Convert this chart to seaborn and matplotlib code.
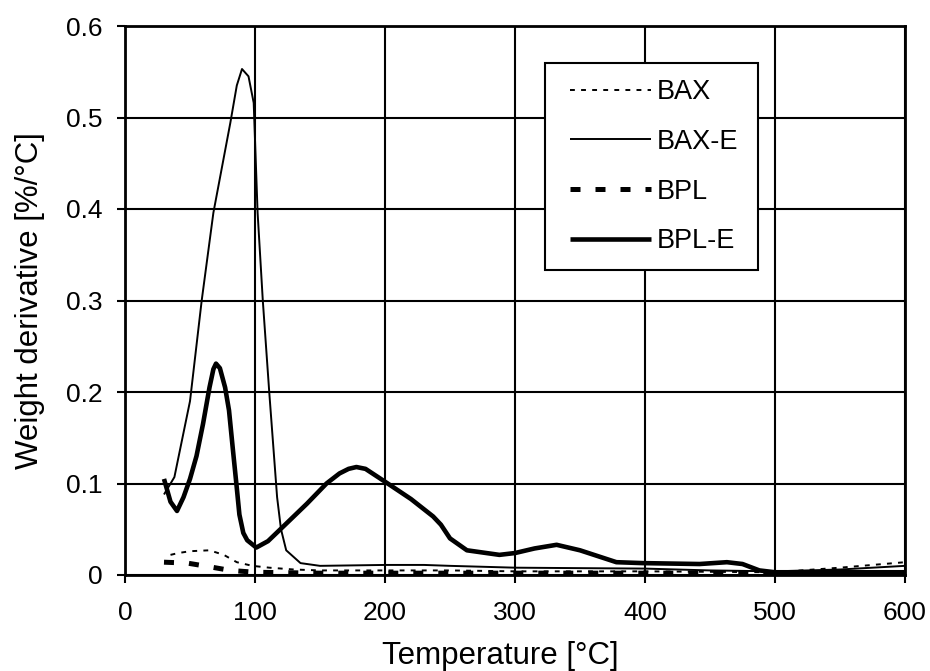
import numpy as np
import pandas as pd
import seaborn as sns
import matplotlib
matplotlib.use("Agg")
import matplotlib.pyplot as plt
from matplotlib.patches import Rectangle

# ---- data ----
bax_x = [35, 41, 50, 65, 76, 86, 98, 111, 130, 150, 200, 250, 300, 400, 500, 550, 600]
bax_y = [0.022, 0.024, 0.026, 0.027, 0.022, 0.014, 0.010, 0.008, 0.006, 0.005,
         0.005, 0.005, 0.004, 0.004, 0.003, 0.008, 0.014]

baxe_x = [30, 38, 50, 59, 68, 81, 86, 90, 95, 99, 102, 106, 111, 117, 120, 124,
          135, 150, 200, 230, 250, 300, 400, 450, 500, 550, 600]
baxe_y = [0.088, 0.107, 0.19, 0.30, 0.396, 0.494, 0.535, 0.553, 0.545, 0.516,
          0.396, 0.30, 0.199, 0.085, 0.050, 0.027, 0.013, 0.010, 0.011, 0.011,
          0.010, 0.008, 0.007, 0.005, 0.004, 0.006, 0.010]

bpl_x = [30, 48, 65, 81, 100, 150, 200, 300, 400, 500, 600]
bpl_y = [0.014, 0.013, 0.009, 0.005, 0.003, 0.002, 0.002, 0.002, 0.002, 0.002, 0.002]

bple_x = [30, 35, 40, 45, 50, 55, 60, 65, 68, 70, 73, 77, 80, 83, 86, 88, 91, 94,
          101, 110, 121, 140, 155, 165, 172, 178, 185, 200, 220, 237, 243, 250,
          263, 288, 300, 315, 332, 350, 378, 398, 442, 463, 475, 488, 500, 600]
bple_y = [0.105, 0.080, 0.070, 0.085, 0.105, 0.130, 0.165, 0.205, 0.225, 0.231,
          0.226, 0.205, 0.180, 0.137, 0.095, 0.066, 0.046, 0.038, 0.030, 0.037,
          0.052, 0.078, 0.100, 0.111, 0.116, 0.118, 0.116, 0.102, 0.083, 0.064,
          0.055, 0.040, 0.027, 0.022, 0.024, 0.029, 0.033, 0.027, 0.014, 0.013,
          0.012, 0.014, 0.012, 0.005, 0.003, 0.003]

labels = ["BAX", "BAX-E", "BPL", "BPL-E"]
xticks = [0, 100, 200, 300, 400, 500, 600]
yticks = [0, 0.1, 0.2, 0.3, 0.4, 0.5, 0.6]

sns.set_theme(style="white")
plt.rcParams['font.family'] = ['Liberation Sans', 'DejaVu Sans']
plt.rcParams['text.color'] = 'black'
plt.rcParams['axes.labelcolor'] = 'black'
plt.rcParams['xtick.color'] = 'black'
plt.rcParams['ytick.color'] = 'black'

fig = plt.figure(figsize=(9.3, 6.71), dpi=100)
ax = fig.add_axes([125/930, 1-575/671, (905-125)/930, (575-26)/671])

series = [
    (bax_x, bax_y, 1.4, (2.5, 3.2)),
    (baxe_x, baxe_y, 1.4, None),
    (bpl_x, bpl_y, 3.6, (2.0, 3.0)),
    (bple_x, bple_y, 3.3, None),
]
for (xs, ys, lw, dashes), lab in zip(series, labels):
    df = pd.DataFrame({"Temperature": xs, "Weight": ys})
    sns.lineplot(data=df, x="Temperature", y="Weight", ax=ax, label=lab,
                 color="black", linewidth=lw)
    ln = ax.get_lines()[-1]
    if dashes is not None:
        ln.set_dashes(dashes)
        ln.set_dash_capstyle("butt")
    ln.set_solid_capstyle("butt")
    ln.set_solid_joinstyle("round")

ax.set_xlim(0, 600)
ax.set_ylim(0, 0.6)
ax.set_xticks(xticks)
ax.set_yticks(yticks)
ax.set_xticklabels([str(t) for t in xticks])
ax.set_yticklabels(["0" if t == 0 else f"{t:.1f}" for t in yticks])
ax.grid(True, color="black", linewidth=1.5)
ax.set_axisbelow(True)
for s in ax.spines.values():
    s.set_color("black")
    s.set_linewidth(2.0)
ax.tick_params(axis="both", which="both", direction="out", length=6, width=1.5,
               color="black", labelsize=19, bottom=True, left=True)
ax.tick_params(axis="x", pad=13)
ax.tick_params(axis="y", pad=10)
ax.set_xlabel("Temperature [°C]", fontsize=22.5, labelpad=11, x=0.481)
ax.set_ylabel("Weight derivative [%/°C]", fontsize=22.5, labelpad=15)

leg = ax.legend(loc="upper left", bbox_to_anchor=(570/930, 1-79/671),
                bbox_transform=fig.transFigure, fontsize=19.5, frameon=False,
                handlelength=3.0, handletextpad=0.2, labelspacing=0.88,
                borderpad=0, borderaxespad=0)
leg.set_zorder(6)
box = Rectangle((545/930, 1-270/671), (758-545)/930, (270-63)/671,
                transform=fig.transFigure, facecolor="white", edgecolor="black",
                linewidth=1.5, zorder=5)
ax.add_artist(box)
box.set_clip_on(False)

fig.savefig("out.png", dpi=100)
